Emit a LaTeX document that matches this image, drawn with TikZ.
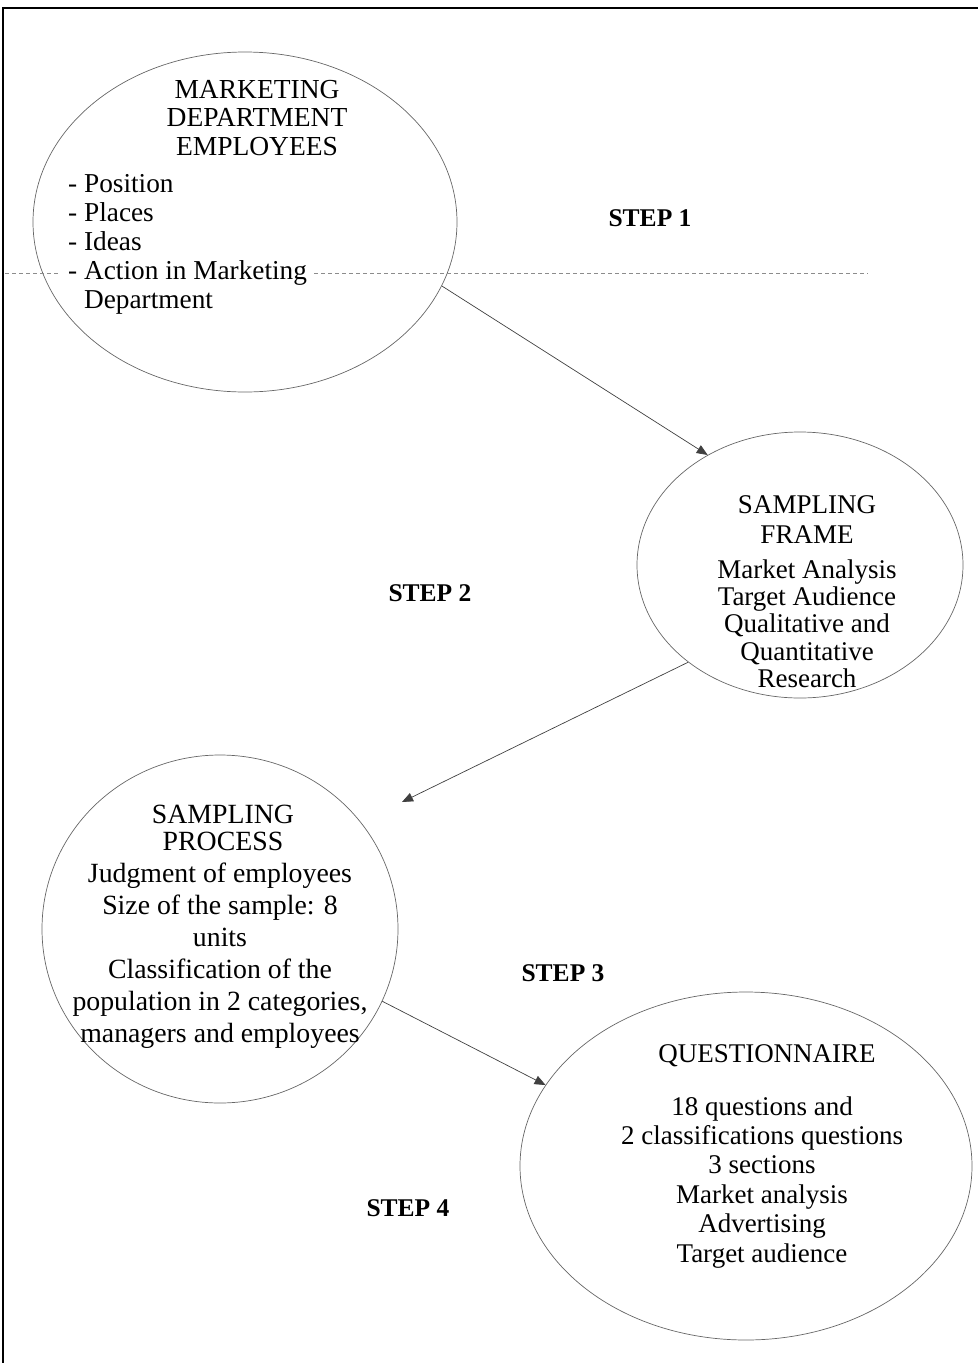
\documentclass[tikz,border=0pt]{standalone}
\usepackage{fontspec}
\setmainfont{Liberation Serif}
\usetikzlibrary{shapes.geometric,arrows.meta}
\begin{document}
\begin{tikzpicture}[x=1pt,y=-1pt,
  oval/.style={ellipse,draw=black!60,line width=0.7pt,inner sep=0pt},
  txt/.style={inner sep=0pt,anchor=north,align=center},
  arr/.style={draw=black!75,line width=0.7pt,-{Triangle[length=11pt,width=9pt]}},
  steplbl/.style={font=\bfseries\fontsize{25.5}{28}\selectfont,inner sep=0pt,anchor=base},
  dashline/.style={draw=black!45,line width=0.8pt,dash pattern=on 4pt off 3pt}]
\useasboundingbox (0,0) rectangle (978,1363);
\draw[line width=1.2pt] (3,1363) -- (3,8) -- (978,8);

% ellipses
\node[oval,minimum width=424pt,minimum height=340pt] (e1) at (245,222) {};
\node[oval,minimum width=326pt,minimum height=266pt] (e2) at (800,565) {};
\node[oval,minimum width=356pt,minimum height=348pt] (e3) at (220,929) {};
\node[oval,minimum width=452pt,minimum height=348pt] (e4) at (746,1166) {};

% dashed separator
\coordinate (d1) at (5,273);
\coordinate (d2) at (58,273);
\coordinate (d3) at (314,273);
\coordinate (d4) at (868,273);
\draw[dashline] (d1) -- (d2);
\draw[dashline] (d3) -- (d4);

% texts of ellipse 1
\node[txt,font=\fontsize{27.5}{28.5}\selectfont] (e1t) at (257,78) {\strut MARKETING\\DEPARTMENT\\EMPLOYEES};
\node[txt,anchor=north west,align=left,font=\fontsize{27.3}{29}\selectfont] (e1b) at (68,171.7)
  {\strut- Position\\- Places\\- Ideas\\- Action in Marketing\\\phantom{- }Department};

% texts of ellipse 2
\node[txt,font=\fontsize{27}{30}\selectfont] (e2t) at (807,492) {\strut SAMPLING\\FRAME};
\node[txt,font=\fontsize{27}{27.3}\selectfont] (e2b) at (807,559)
  {\strut Market Analysis\\Target Audience\\Qualitative and\\Quantitative\\Research};

% texts of ellipse 3
\node[txt,font=\fontsize{27.8}{27}\selectfont] (e3t) at (223,804) {\strut SAMPLING\\PROCESS};
\node[txt,font=\fontsize{27.8}{32}\selectfont] (e3b) at (220,859.6)
  {\strut Judgment of employees\\Size of the sample: 8\\units\\Classification of the\\population in 2 categories,\\managers and employees};

% texts of ellipse 4
\node[inner sep=0pt,anchor=base,font=\fontsize{27}{29.4}\selectfont] (e4t) at (767,1062) {QUESTIONNAIRE};
\node[txt,font=\fontsize{27}{29.4}\selectfont] (e4b) at (762,1094.4)
  {\strut 18 questions and\\2 classifications questions\\3 sections\\Market analysis\\Advertising\\Target audience};

% step labels
\node[steplbl] (s1) at (650,226) {STEP 1};
\node[steplbl] (s2) at (430,601) {STEP 2};
\node[steplbl] (s3) at (563,981) {STEP 3};
\node[steplbl] (s4) at (408,1216) {STEP 4};

% arrows
\coordinate (t2) at (402,802);
\draw[arr] (e1.-18) -- (e2.130);
\draw[arr] (e2.221) -- (t2);
\draw[arr] (e3.-24) -- (e4.158);
\end{tikzpicture}
\end{document}
